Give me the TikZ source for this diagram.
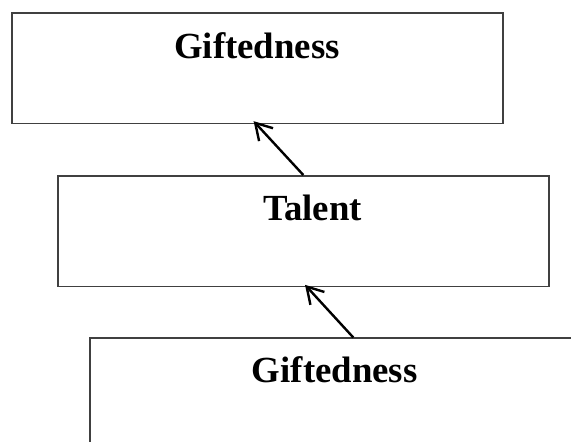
\documentclass[tikz,border=0pt]{standalone}
\usepackage{fontspec}
\setmainfont{Liberation Serif}
\usetikzlibrary{arrows.meta,calc}
\definecolor{boxgray}{HTML}{404040}
\tikzset{
  box/.style={draw=boxgray, line width=1.6pt, rectangle, minimum width=491pt, minimum height=110.5pt, anchor=north west, inner sep=0pt},
  lbl/.style={font=\fontsize{36.8pt}{40pt}\selectfont\bfseries, anchor=base, inner sep=0pt},
  arr/.style={line width=2.4pt, -{Straight Barb[length=16pt,width=19pt,line width=2.4pt]}, shorten >=-1pt}
}
\begin{document}
\begin{tikzpicture}[x=1pt,y=-1pt]
\useasboundingbox (0,0) rectangle (571,442);
\begin{scope}
\clip (0,0) rectangle (571,442);
\node[box] (b1) at (11,12.3) {};
\node[box] (b2) at (57.2,175) {};
\node[box] (b3) at (89.2,337) {};
\end{scope}
\node[lbl] (t1) at (257,58) {Giftedness};
\node[lbl] (t2) at (312.5,220.7) {Talent};
\node[lbl] (t3) at (334.7,382.7) {Giftedness};
\coordinate (a1s) at ($(b2.north west)+(246.1,0)$);
\coordinate (a1e) at ($(b1.south west)+(243.3,-2.5)$);
\coordinate (a2s) at ($(b3.north west)+(264.1,0.5)$);
\coordinate (a2e) at ($(b2.south west)+(248.5,-1.5)$);
\draw[arr] (a1s) -- (a1e);
\draw[arr] (a2s) -- (a2e);
\end{tikzpicture}
\end{document}
